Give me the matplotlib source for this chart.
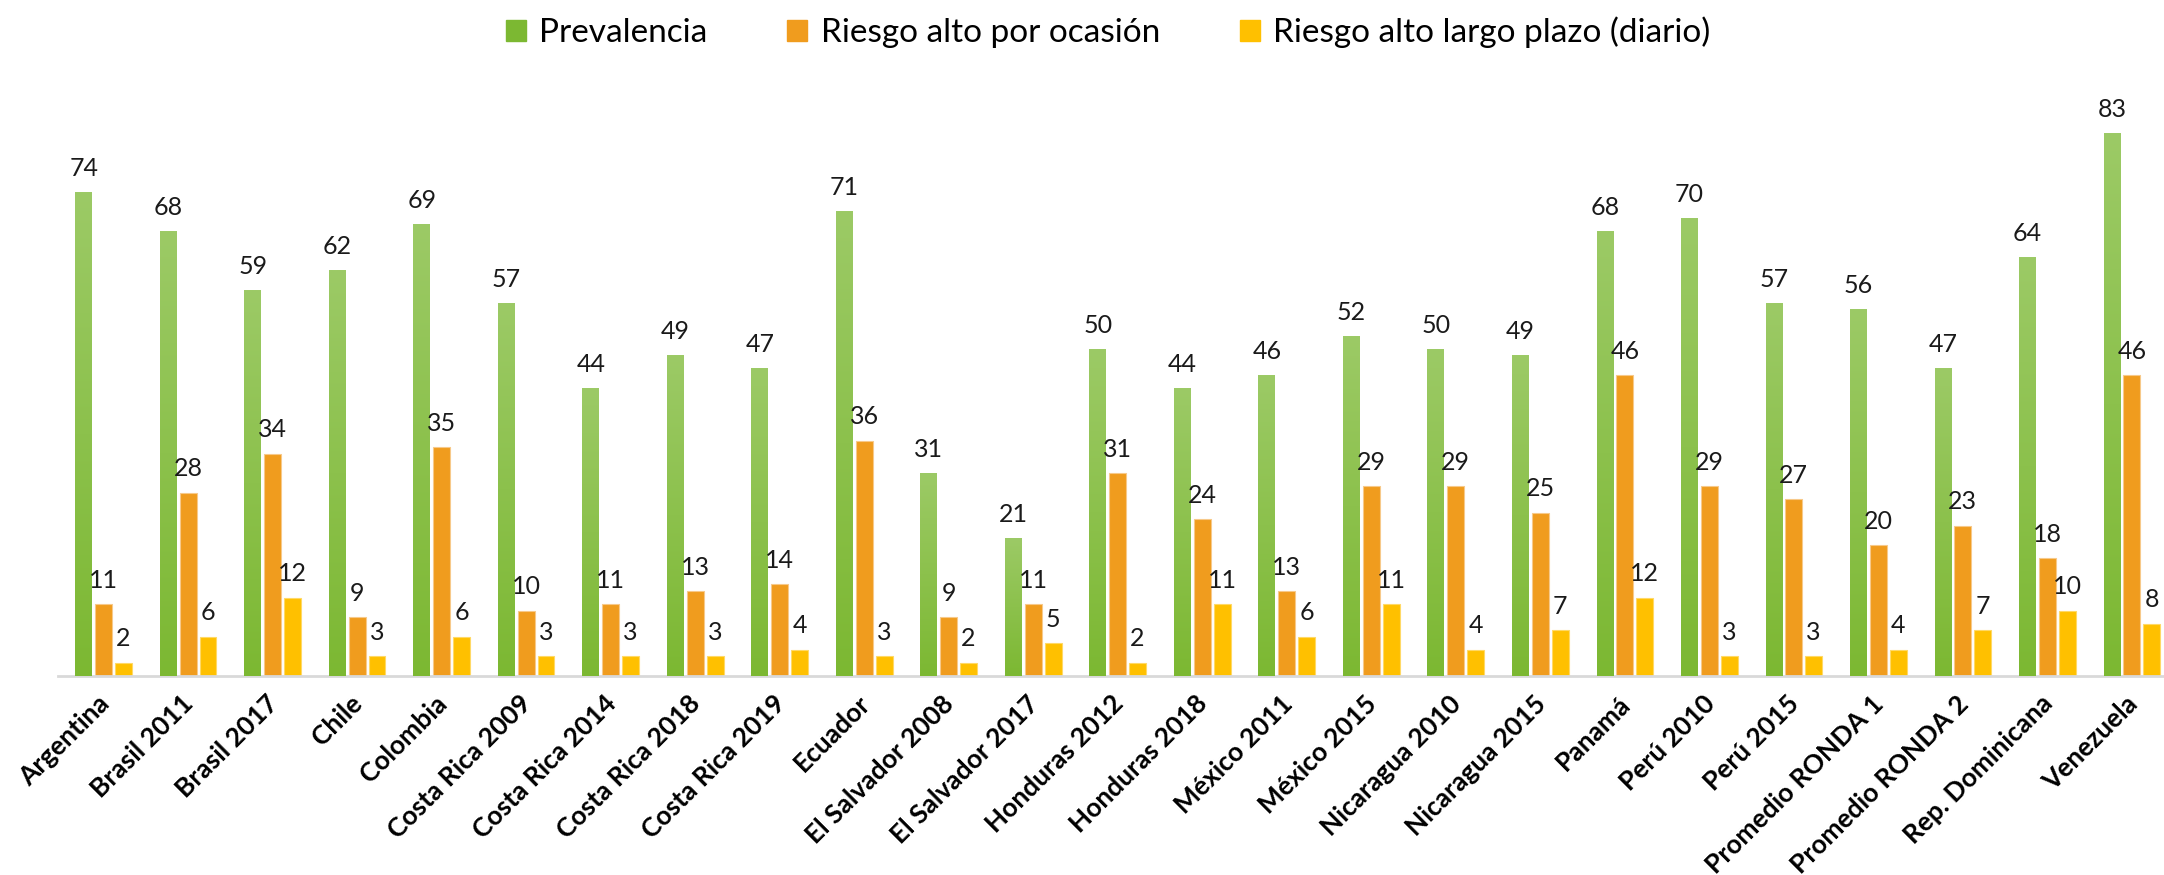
import numpy as np
import matplotlib
matplotlib.use("Agg")
import matplotlib.pyplot as plt
import matplotlib.transforms as mtransforms
from matplotlib.patches import Patch

plt.rcParams['font.family'] = ['Lato', 'DejaVu Sans']

categorias = ['Argentina', 'Brasil 2011', 'Brasil 2017', 'Chile', 'Colombia',
              'Costa Rica 2009', 'Costa Rica 2014', 'Costa Rica 2018', 'Costa Rica 2019',
              'Ecuador', 'El Salvador 2008', 'El Salvador 2017', 'Honduras 2012',
              'Honduras 2018', 'México 2011', 'México 2015', 'Nicaragua 2010',
              'Nicaragua 2015', 'Panamá', 'Perú 2010', 'Perú 2015', 'Promedio RONDA 1',
              'Promedio RONDA 2', 'Rep. Dominicana', 'Venezuela']
prevalencia = [74, 68, 59, 62, 69, 57, 44, 49, 47, 71, 31, 21, 50, 44, 46, 52, 50, 49,
               68, 70, 57, 56, 47, 64, 83]
riesgo_ocasion = [11, 28, 34, 9, 35, 10, 11, 13, 14, 36, 9, 11, 31, 24, 13, 29, 29, 25,
                  46, 29, 27, 20, 23, 18, 46]
riesgo_diario = [2, 6, 12, 3, 6, 3, 3, 3, 4, 3, 2, 5, 2, 11, 6, 11, 4, 7, 12, 3, 3, 4,
                 7, 10, 8]
series = ['Prevalencia', 'Riesgo alto por ocasión', 'Riesgo alto largo plazo (diario)']

verde_top = np.array([0x9C, 0xCA, 0x66]) / 255
verde_bot = np.array([0x7C, 0xB8, 0x32]) / 255
naranja = '#F09C1E'
amarillo = '#FFC000'

fig = plt.figure(figsize=(21.64, 8.75), dpi=100)
ax = fig.add_axes([0.0268, 0.2274, 0.9732, 0.68])

x = np.arange(len(categorias))
ancho = 0.2
sep = 0.235

b1 = ax.bar(x - sep, prevalencia, ancho, color=verde_bot, zorder=2)
b2 = ax.bar(x, riesgo_ocasion, ancho, color=naranja, edgecolor='#F7C98A', linewidth=0.8, zorder=2)
b3 = ax.bar(x + sep, riesgo_diario, ancho, color=amarillo, edgecolor='#FFD966', linewidth=0.8, zorder=2)

# degradado en las barras verdes
grad = np.linspace(0, 1, 256)[:, None]
cols = verde_top[None, :] * (1 - grad) + verde_bot[None, :] * grad
img = cols[:, None, :]
for r in b1:
    x0 = r.get_x()
    h = r.get_height()
    ax.imshow(img, extent=(x0, x0 + r.get_width(), 0, h), origin='upper',
              aspect='auto', zorder=3)

for bars in (b1, b2, b3):
    for r in bars:
        ax.annotate(f'{r.get_height():g}', (r.get_x() + r.get_width() / 2, r.get_height()),
                    xytext=(0, 9), textcoords='offset points', ha='center', va='bottom',
                    fontsize=18, color='#1a1a1a', zorder=4)

ax.set_xlim(-0.54, len(categorias) - 1 + 0.38)
ax.set_ylim(0, 91)
ax.set_yticks([])
for s in ['top', 'right', 'left']:
    ax.spines[s].set_visible(False)
ax.spines['bottom'].set_color('#D9D9D9')
ax.spines['bottom'].set_linewidth(2)

ax.set_xticks(x)
ax.set_xticklabels(categorias, rotation=45, ha='right', rotation_mode='anchor',
                   fontsize=19, fontweight='bold', color='black')
ax.tick_params(axis='x', length=0, pad=11)
desp = mtransforms.ScaledTranslation(-0.07, 0, fig.dpi_scale_trans)
for lab in ax.get_xticklabels():
    lab.set_transform(lab.get_transform() + desp)

handles = [Patch(color=verde_bot), Patch(color=naranja), Patch(color=amarillo)]
fig.legend(handles, series, loc='upper center', bbox_to_anchor=(0.512, 1.015), ncol=3,
           frameon=False, fontsize=24, handlelength=0.6, handleheight=0.6,
           handletextpad=0.4, columnspacing=2.4)

fig.savefig('out.png', dpi=100)
